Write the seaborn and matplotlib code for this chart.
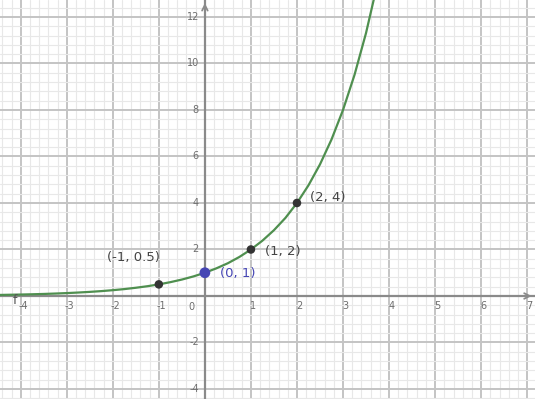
import numpy as np
import pandas as pd
import matplotlib
matplotlib.use("Agg")
import matplotlib.pyplot as plt
import seaborn as sns
from matplotlib.ticker import MultipleLocator

# curve f(x) = 2^x
curve_x = [-4.5, -4.25, -4.0, -3.75, -3.5, -3.25, -3.0, -2.75, -2.5, -2.25,
           -2.0, -1.75, -1.5, -1.25, -1.0, -0.75, -0.5, -0.25, 0.0, 0.25,
           0.5, 0.75, 1.0, 1.25, 1.5, 1.75, 2.0, 2.25, 2.5, 2.75,
           3.0, 3.25, 3.5, 3.75]
curve_y = [0.044, 0.053, 0.0625, 0.074, 0.088, 0.105, 0.125, 0.149, 0.177, 0.210,
           0.25, 0.297, 0.354, 0.420, 0.5, 0.595, 0.707, 0.841, 1.0, 1.19,
           1.41, 1.68, 2.0, 2.38, 2.83, 3.36, 4.0, 4.76, 5.66, 6.73,
           8.0, 9.51, 11.31, 13.45]

# marked points
point_x = [-1, 0, 1, 2]
point_y = [0.5, 1, 2, 4]
point_labels = ["(-1, 0.5)", "(0, 1)", "(1, 2)", "(2, 4)"]

# axis tick labels
xtick_vals = [-4, -3, -2, -1, 1, 2, 3, 4, 5, 6, 7]
ytick_vals = [-4, -2, 2, 4, 6, 8, 10, 12]

sns.set_style("white")
fig = plt.figure(figsize=(5.35, 3.99), dpi=100)
ax = fig.add_axes([0, 0, 1, 1])

ax.set_xlim(-4.45, 7.17)
ax.set_ylim(-4.43, 12.73)

# grid like GeoGebra
ax.xaxis.set_major_locator(MultipleLocator(1))
ax.yaxis.set_major_locator(MultipleLocator(2))
ax.xaxis.set_minor_locator(MultipleLocator(0.2))
ax.yaxis.set_minor_locator(MultipleLocator(0.4))
ax.grid(which="minor", color="#e8e8e8", lw=0.8)
ax.grid(which="major", color="#c4c4c4", lw=1.4)
ax.set_axisbelow(True)
ax.tick_params(which="both", length=0, labelbottom=False, labelleft=False)
for s in ax.spines.values():
    s.set_visible(False)

# axes
ax.axhline(0, color="#8a8a8a", lw=1.6, zorder=1)
ax.axvline(0, color="#8a8a8a", lw=1.6, zorder=1)
ax.annotate("", xy=(0, 12.72), xytext=(0, 12.3),
            arrowprops=dict(arrowstyle="->", color="#8a8a8a", lw=1.3))
ax.annotate("", xy=(7.16, 0), xytext=(6.95, 0),
            arrowprops=dict(arrowstyle="->", color="#8a8a8a", lw=1.3))

# tick labels
for v in xtick_vals:
    ax.text(v + 0.05, -0.45, str(v), ha="center", va="center",
            fontsize=7, color="#6e6e6e")
ax.text(-0.3, -0.47, "0", ha="center", va="center", fontsize=7, color="#6e6e6e")
for v in ytick_vals:
    ax.text(-0.13, v, str(v), ha="right", va="center",
            fontsize=7, color="#6e6e6e")

# curve
df_curve = pd.DataFrame({"x": curve_x, "y": curve_y})
sns.lineplot(data=df_curve, x="x", y="y", ax=ax, color="#4f8f4f", lw=1.6,
             estimator=None, zorder=3)
ax.text(-4.13, -0.2, "f", ha="center", va="center", fontsize=9, color="#555555")

# points
df_pts = pd.DataFrame({"x": point_x, "y": point_y, "lab": point_labels})
pt_colors = ["#333333", "#4646b4", "#333333", "#333333"]
pt_sizes = [38, 60, 38, 38]
sns.scatterplot(data=df_pts, x="x", y="y", ax=ax, hue="lab",
                palette=dict(zip(point_labels, pt_colors)),
                size="lab", sizes=dict(zip(point_labels, pt_sizes)),
                edgecolor="none", legend=False, zorder=4)

label_pos = [(-1.56, 1.65, "center"), (0.32, 0.95, "left"),
             (1.3, 1.92, "left"), (2.28, 4.25, "left")]
for (lx, ly, ha), lab, c in zip(label_pos, point_labels, pt_colors):
    ax.text(lx, ly, lab, ha=ha, va="center", fontsize=9.5,
            color="#4646b4" if c == "#4646b4" else "#444444")

ax.set_xlabel("")
ax.set_ylabel("")
fig.savefig("out.png", dpi=100)
